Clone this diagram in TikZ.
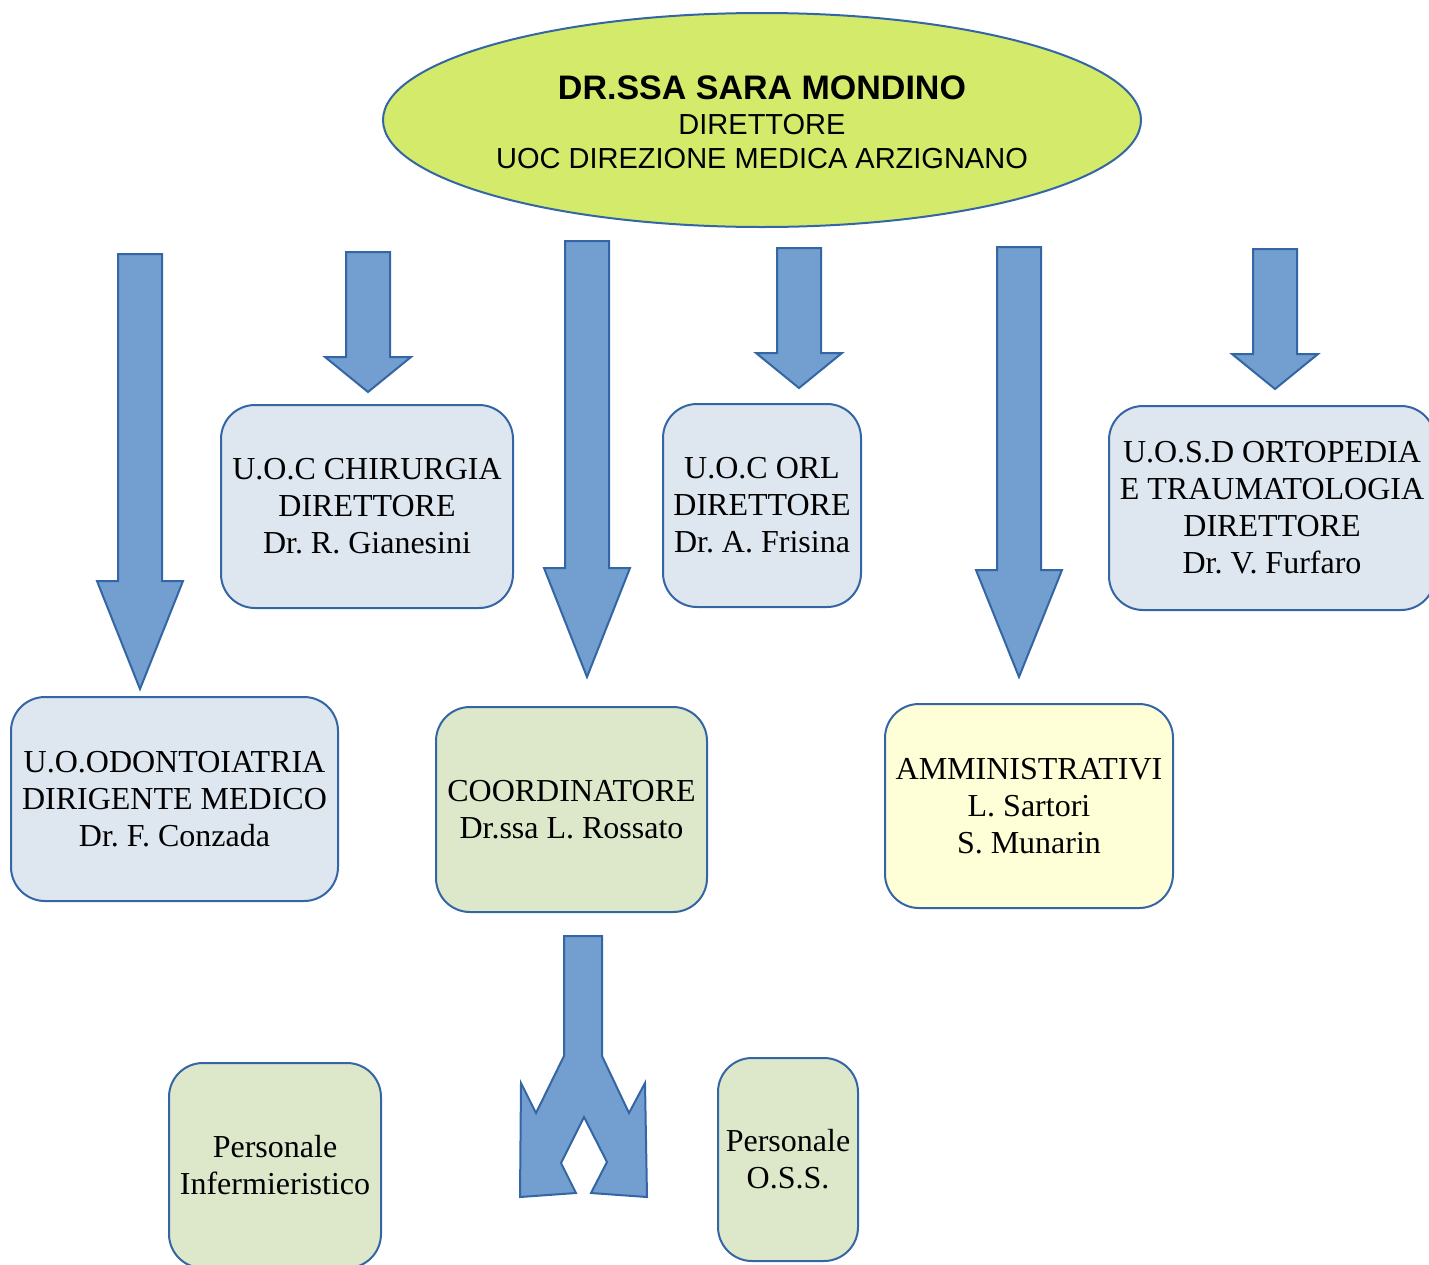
\documentclass[tikz,border=0pt]{standalone}
\usepackage{fontspec}
\setmainfont{Liberation Serif}
\newfontfamily\headfont{Liberation Sans}
\usetikzlibrary{shapes.geometric}
\definecolor{edge}{HTML}{3465A4}
\definecolor{arrowfill}{HTML}{729FCF}
\definecolor{bluebox}{HTML}{DEE6EF}
\definecolor{greenbox}{HTML}{DDE8CB}
\definecolor{yellowbox}{HTML}{FFFFD7}
\definecolor{lime}{HTML}{D4EA6B}
\frenchspacing

\tikzset{
  unit/.style={draw=edge, line width=1pt, rounded corners=17pt, align=center,
    inner sep=0pt, font=\fontsize{16}{18.5}\selectfont},
  blockarrow/.style={draw=edge, fill=arrowfill, line width=1pt, line join=miter}
}

\begin{document}
\begin{tikzpicture}[x=0.5pt, y=-0.5pt]
\useasboundingbox (0,0) rectangle (1429,1264);

% --- Direzione (top) ---
\node[ellipse, draw=edge, fill=lime, line width=1pt, inner sep=0pt,
      minimum width=379pt, minimum height=107pt, align=center,
      font=\headfont\fontsize{14.5}{17}\selectfont] (dir) at (762,120)
  {};
\node[align=center, font=\headfont\fontsize{14.5}{17}\selectfont] (dirtext) at (762,122)
  {{\fontsize{17}{17}\selectfont\bfseries DR.SSA SARA MONDINO}\\[0.5pt]
   DIRETTORE\\ UOC DIREZIONE MEDICA ARZIGNANO};

% Block arrows from the direction
\foreach \cx/\top/\neck/\tip in {140/254/581/689, 368/252/357/392, 587/241/568/677,
                                 799/248/353/388, 1019/247/570/677, 1275/249/354/389} {
  \draw[blockarrow] (\cx-22,\top) -- (\cx+22,\top) -- (\cx+22,\neck) -- (\cx+43,\neck)
    -- (\cx,\tip) -- (\cx-43,\neck) -- (\cx-22,\neck) -- cycle;
}

% --- Units (first row) ---
\node[unit, fill=bluebox, minimum width=146pt, minimum height=101.5pt] (chir) at (367,506.5)
  {U.O.C CHIRURGIA\\ DIRETTORE\\ Dr. R. Gianesini};
\node[unit, fill=bluebox, minimum width=99pt, minimum height=101.5pt] (orl) at (762,505.5)
  {U.O.C ORL\\ DIRETTORE\\ Dr. A. Frisina};
\node[unit, fill=bluebox, minimum width=163pt, minimum height=102pt] (orto) at (1272,508)
  {U.O.S.D ORTOPEDIA\\ E TRAUMATOLOGIA\\ DIRETTORE\\ Dr. V. Furfaro};

% --- Second row ---
\node[unit, fill=bluebox, minimum width=163.5pt, minimum height=102pt] (odonto) at (174.5,799)
  {U.O.ODONTOIATRIA\\ DIRIGENTE MEDICO\\ Dr. F. Conzada};
\node[unit, fill=greenbox, minimum width=135.5pt, minimum height=102.5pt] (coord) at (571.5,809.5)
  {COORDINATORE\\ Dr.ssa L. Rossato};
\node[unit, fill=yellowbox, minimum width=144pt, minimum height=102pt] (ammin) at (1029,806)
  {AMMINISTRATIVI\\ L. Sartori\\ S. Munarin};

% --- Staff (bottom) ---
\node[unit, fill=greenbox, minimum width=106pt, minimum height=102.5pt] (inferm) at (275,1165.5)
  {Personale\\ Infermieristico};
\node[unit, fill=greenbox, minimum width=70pt, minimum height=101.5pt] (oss) at (788,1159.5)
  {Personale\\ O.S.S.};

% Split arrow below the coordinator
\draw[blockarrow] (564,936) -- (602,936) -- (602,1056) -- (629,1113) -- (645,1083)
  -- (647,1197) -- (591,1193) -- (607,1162) -- (584,1117) -- (561,1163) -- (576,1193)
  -- (520,1197) -- (521,1083) -- (536,1113) -- (564,1056) -- cycle;
\end{tikzpicture}
\end{document}
